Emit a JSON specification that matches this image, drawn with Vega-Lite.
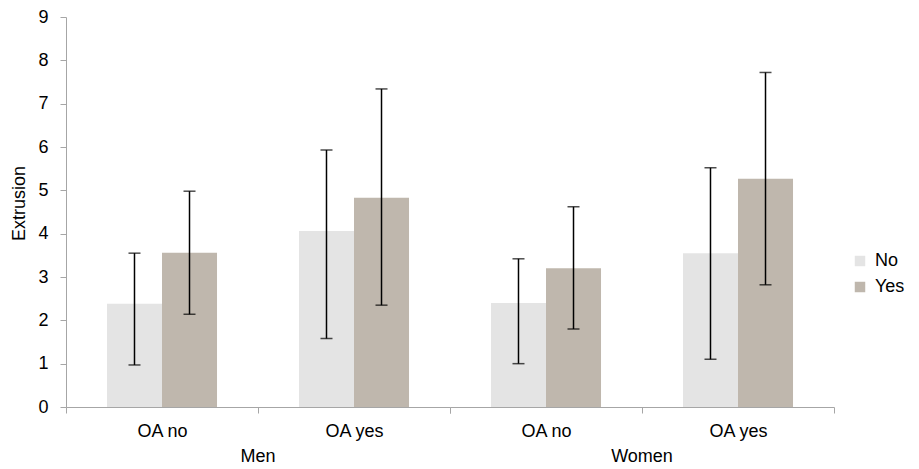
{
  "$schema": "https://vega.github.io/schema/vega-lite/v6.json",
  "padding": {"left": 10, "top": 8, "right": 5, "bottom": 5},
  "background": "white",
  "config": {
    "font": "Liberation Sans",
    "view": {"stroke": null},
    "axis": {"grid": false, "domainColor": "#a6a6a6", "tickColor": "#a6a6a6", "labelColor": "black", "titleColor": "black", "labelFontSize": 18, "titleFontSize": 18, "titleFontWeight": "normal", "labelFont": "Liberation Sans", "titleFont": "Liberation Sans"},
    "header": {"labelFont": "Liberation Sans", "labelFontSize": 18, "labelColor": "black"},
    "legend": {"labelFont": "Liberation Sans", "labelFontSize": 18, "labelColor": "black"}
  },
  "data": {"values": [
    {"sex": "Men", "oa": "OA no", "resp": "No", "value": 2.38, "lo": 0.97, "hi": 3.55},
    {"sex": "Men", "oa": "OA no", "resp": "Yes", "value": 3.56, "lo": 2.14, "hi": 4.98},
    {"sex": "Men", "oa": "OA yes", "resp": "No", "value": 4.06, "lo": 1.58, "hi": 5.93},
    {"sex": "Men", "oa": "OA yes", "resp": "Yes", "value": 4.83, "lo": 2.35, "hi": 7.34},
    {"sex": "Women", "oa": "OA no", "resp": "No", "value": 2.40, "lo": 1.0, "hi": 3.42},
    {"sex": "Women", "oa": "OA no", "resp": "Yes", "value": 3.20, "lo": 1.8, "hi": 4.62},
    {"sex": "Women", "oa": "OA yes", "resp": "No", "value": 3.55, "lo": 1.1, "hi": 5.52},
    {"sex": "Women", "oa": "OA yes", "resp": "Yes", "value": 5.27, "lo": 2.82, "hi": 7.72}
  ]},
  "facet": {"column": {"field": "sex", "type": "nominal", "sort": ["Men", "Women"], "header": {"title": null, "labelOrient": "bottom", "labelPadding": 8}}},
  "spacing": 0,
  "spec": {
    "width": 384,
    "height": 390,
    "encoding": {
      "x": {"field": "oa", "type": "nominal", "title": null, "sort": ["OA no", "OA yes"], "scale": {"paddingInner": 0, "paddingOuter": 0}, "axis": {"labelAngle": 0, "tickBand": "extent", "tickSize": 6, "labelPadding": 9}},
      "xOffset": {"field": "resp", "type": "nominal", "sort": ["No", "Yes"], "scale": {"paddingOuter": 0.745, "paddingInner": 0}}
    },
    "layer": [
      {
        "mark": {"type": "bar"},
        "encoding": {
          "y": {"field": "value", "type": "quantitative", "title": "Extrusion", "scale": {"domain": [0, 9], "nice": false}, "axis": {"values": [0, 1, 2, 3, 4, 5, 6, 7, 8, 9], "tickSize": 6, "labelPadding": 12, "titlePadding": 9, "titleY": 186}},
          "color": {"field": "resp", "type": "nominal", "title": null, "scale": {"domain": ["No", "Yes"], "range": ["#e4e4e4", "#bfb7ad"]}, "legend": {"orient": "none", "legendX": 785, "legendY": 235, "symbolType": "square", "symbolSize": 110, "symbolStrokeWidth": 0, "rowPadding": 8, "labelOffset": 6}}
        }
      },
      {
        "mark": {"type": "rule", "color": "black", "strokeWidth": 1.5},
        "encoding": {"y": {"field": "lo", "type": "quantitative"}, "y2": {"field": "hi"}}
      },
      {
        "mark": {"type": "tick", "color": "black", "size": 12, "thickness": 1.5},
        "encoding": {"y": {"field": "lo", "type": "quantitative"}}
      },
      {
        "mark": {"type": "tick", "color": "black", "size": 12, "thickness": 1.5},
        "encoding": {"y": {"field": "hi", "type": "quantitative"}}
      }
    ]
  }
}
